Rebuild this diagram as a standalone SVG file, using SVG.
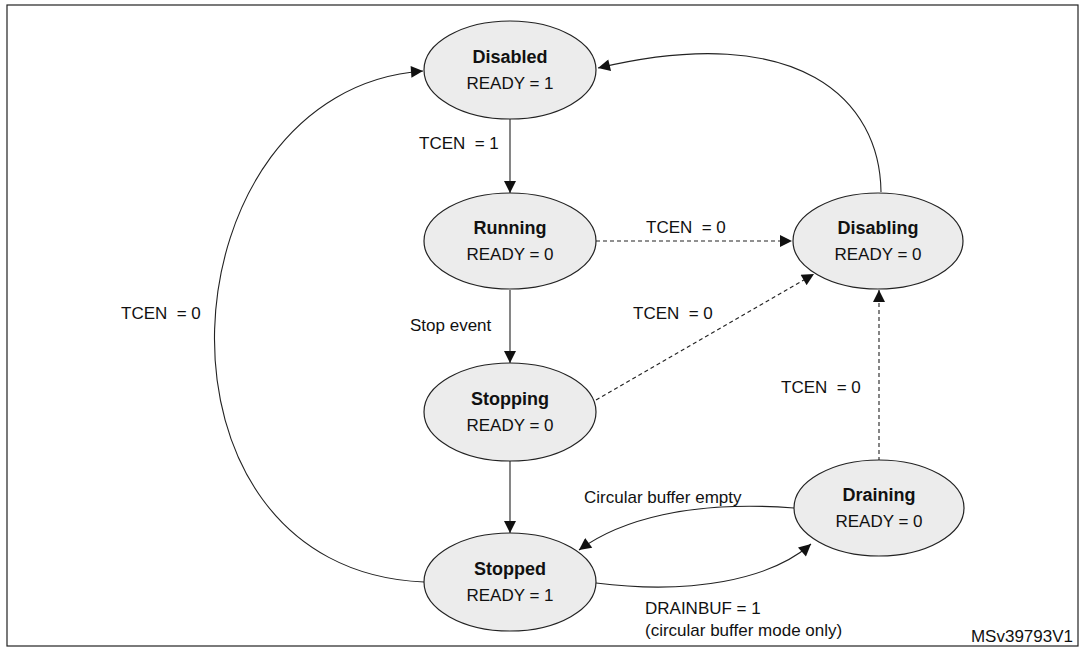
<svg xmlns="http://www.w3.org/2000/svg" width="1087" height="651" viewBox="0 0 1087 651">
<style>
.n{fill:#ececec;stroke:#222;stroke-width:1.2}
.t{font-family:"Liberation Sans",Arial,sans-serif;font-size:18px;font-weight:bold;fill:#111;text-anchor:middle}
.r{font-family:"Liberation Sans",Arial,sans-serif;font-size:17px;fill:#111;text-anchor:middle}
.l{font-family:"Liberation Sans",Arial,sans-serif;font-size:17px;fill:#111;white-space:pre}
.c{fill:none;stroke:#222;stroke-width:1.1;marker-end:url(#a)}
.d{stroke-dasharray:4,3}
</style>
<defs><marker id="a" viewBox="0 0 10 10" refX="10" refY="5" markerWidth="14" markerHeight="12" markerUnits="userSpaceOnUse" orient="auto"><path d="M0,0L10,5L0,10z" fill="#111"/></marker></defs>
<rect x="0" y="0" width="1087" height="651" fill="#fff"/>
<rect x="7" y="5" width="1071" height="641" fill="none" stroke="#222" stroke-width="1.2"/>
<g id="connectors">
<path class="c" d="M510,119V193"/>
<path class="c" d="M510,290V363"/>
<path class="c" d="M510,461V533"/>
<path class="c d" d="M596,241H792"/>
<path class="c d" d="M596,400L814,274"/>
<path class="c d" d="M879,461V290"/>
<path class="c" d="M881,192C880,100 800,20 598,68"/>
<path class="c" d="M424,582C130,570 160,90 423,71"/>
<path class="c" d="M794,508C690,500 620,520 579,550"/>
<path class="c" d="M596,583C690,595 770,580 811,544"/>
</g>
<g id="labels">
<text class="l" x="419" y="149" xml:space="preserve">TCEN  = 1</text>
<text class="l" x="410" y="331">Stop event</text>
<text class="l" x="646" y="233" xml:space="preserve">TCEN  = 0</text>
<text class="l" x="633" y="319" xml:space="preserve">TCEN  = 0</text>
<text class="l" x="781" y="393" xml:space="preserve">TCEN  = 0</text>
<text class="l" x="121" y="319" xml:space="preserve">TCEN  = 0</text>
<text class="l" x="584" y="503">Circular buffer empty</text>
<text class="l" x="645" y="614">DRAINBUF = 1</text>
<text class="l" x="645" y="636">(circular buffer mode only)</text>
<text class="l" x="1073" y="642" font-size="14" text-anchor="end">MSv39793V1</text>
</g>
<g id="disabled"><ellipse class="n" cx="510" cy="70" rx="86" ry="49"/><text class="t" x="510" y="63">Disabled</text><text class="r" x="510" y="89">READY = 1</text></g>
<g id="running"><ellipse class="n" cx="510" cy="241" rx="86" ry="48"/><text class="t" x="510" y="234">Running</text><text class="r" x="510" y="260">READY = 0</text></g>
<g id="disabling"><ellipse class="n" cx="878" cy="241" rx="85" ry="48"/><text class="t" x="878" y="234">Disabling</text><text class="r" x="878" y="260">READY = 0</text></g>
<g id="stopping"><ellipse class="n" cx="510" cy="412" rx="86" ry="49"/><text class="t" x="510" y="405">Stopping</text><text class="r" x="510" y="431">READY = 0</text></g>
<g id="stopped"><ellipse class="n" cx="510" cy="582" rx="86" ry="49"/><text class="t" x="510" y="575">Stopped</text><text class="r" x="510" y="601">READY = 1</text></g>
<g id="draining"><ellipse class="n" cx="879" cy="508" rx="85" ry="48"/><text class="t" x="879" y="501">Draining</text><text class="r" x="879" y="527">READY = 0</text></g>
</svg>
